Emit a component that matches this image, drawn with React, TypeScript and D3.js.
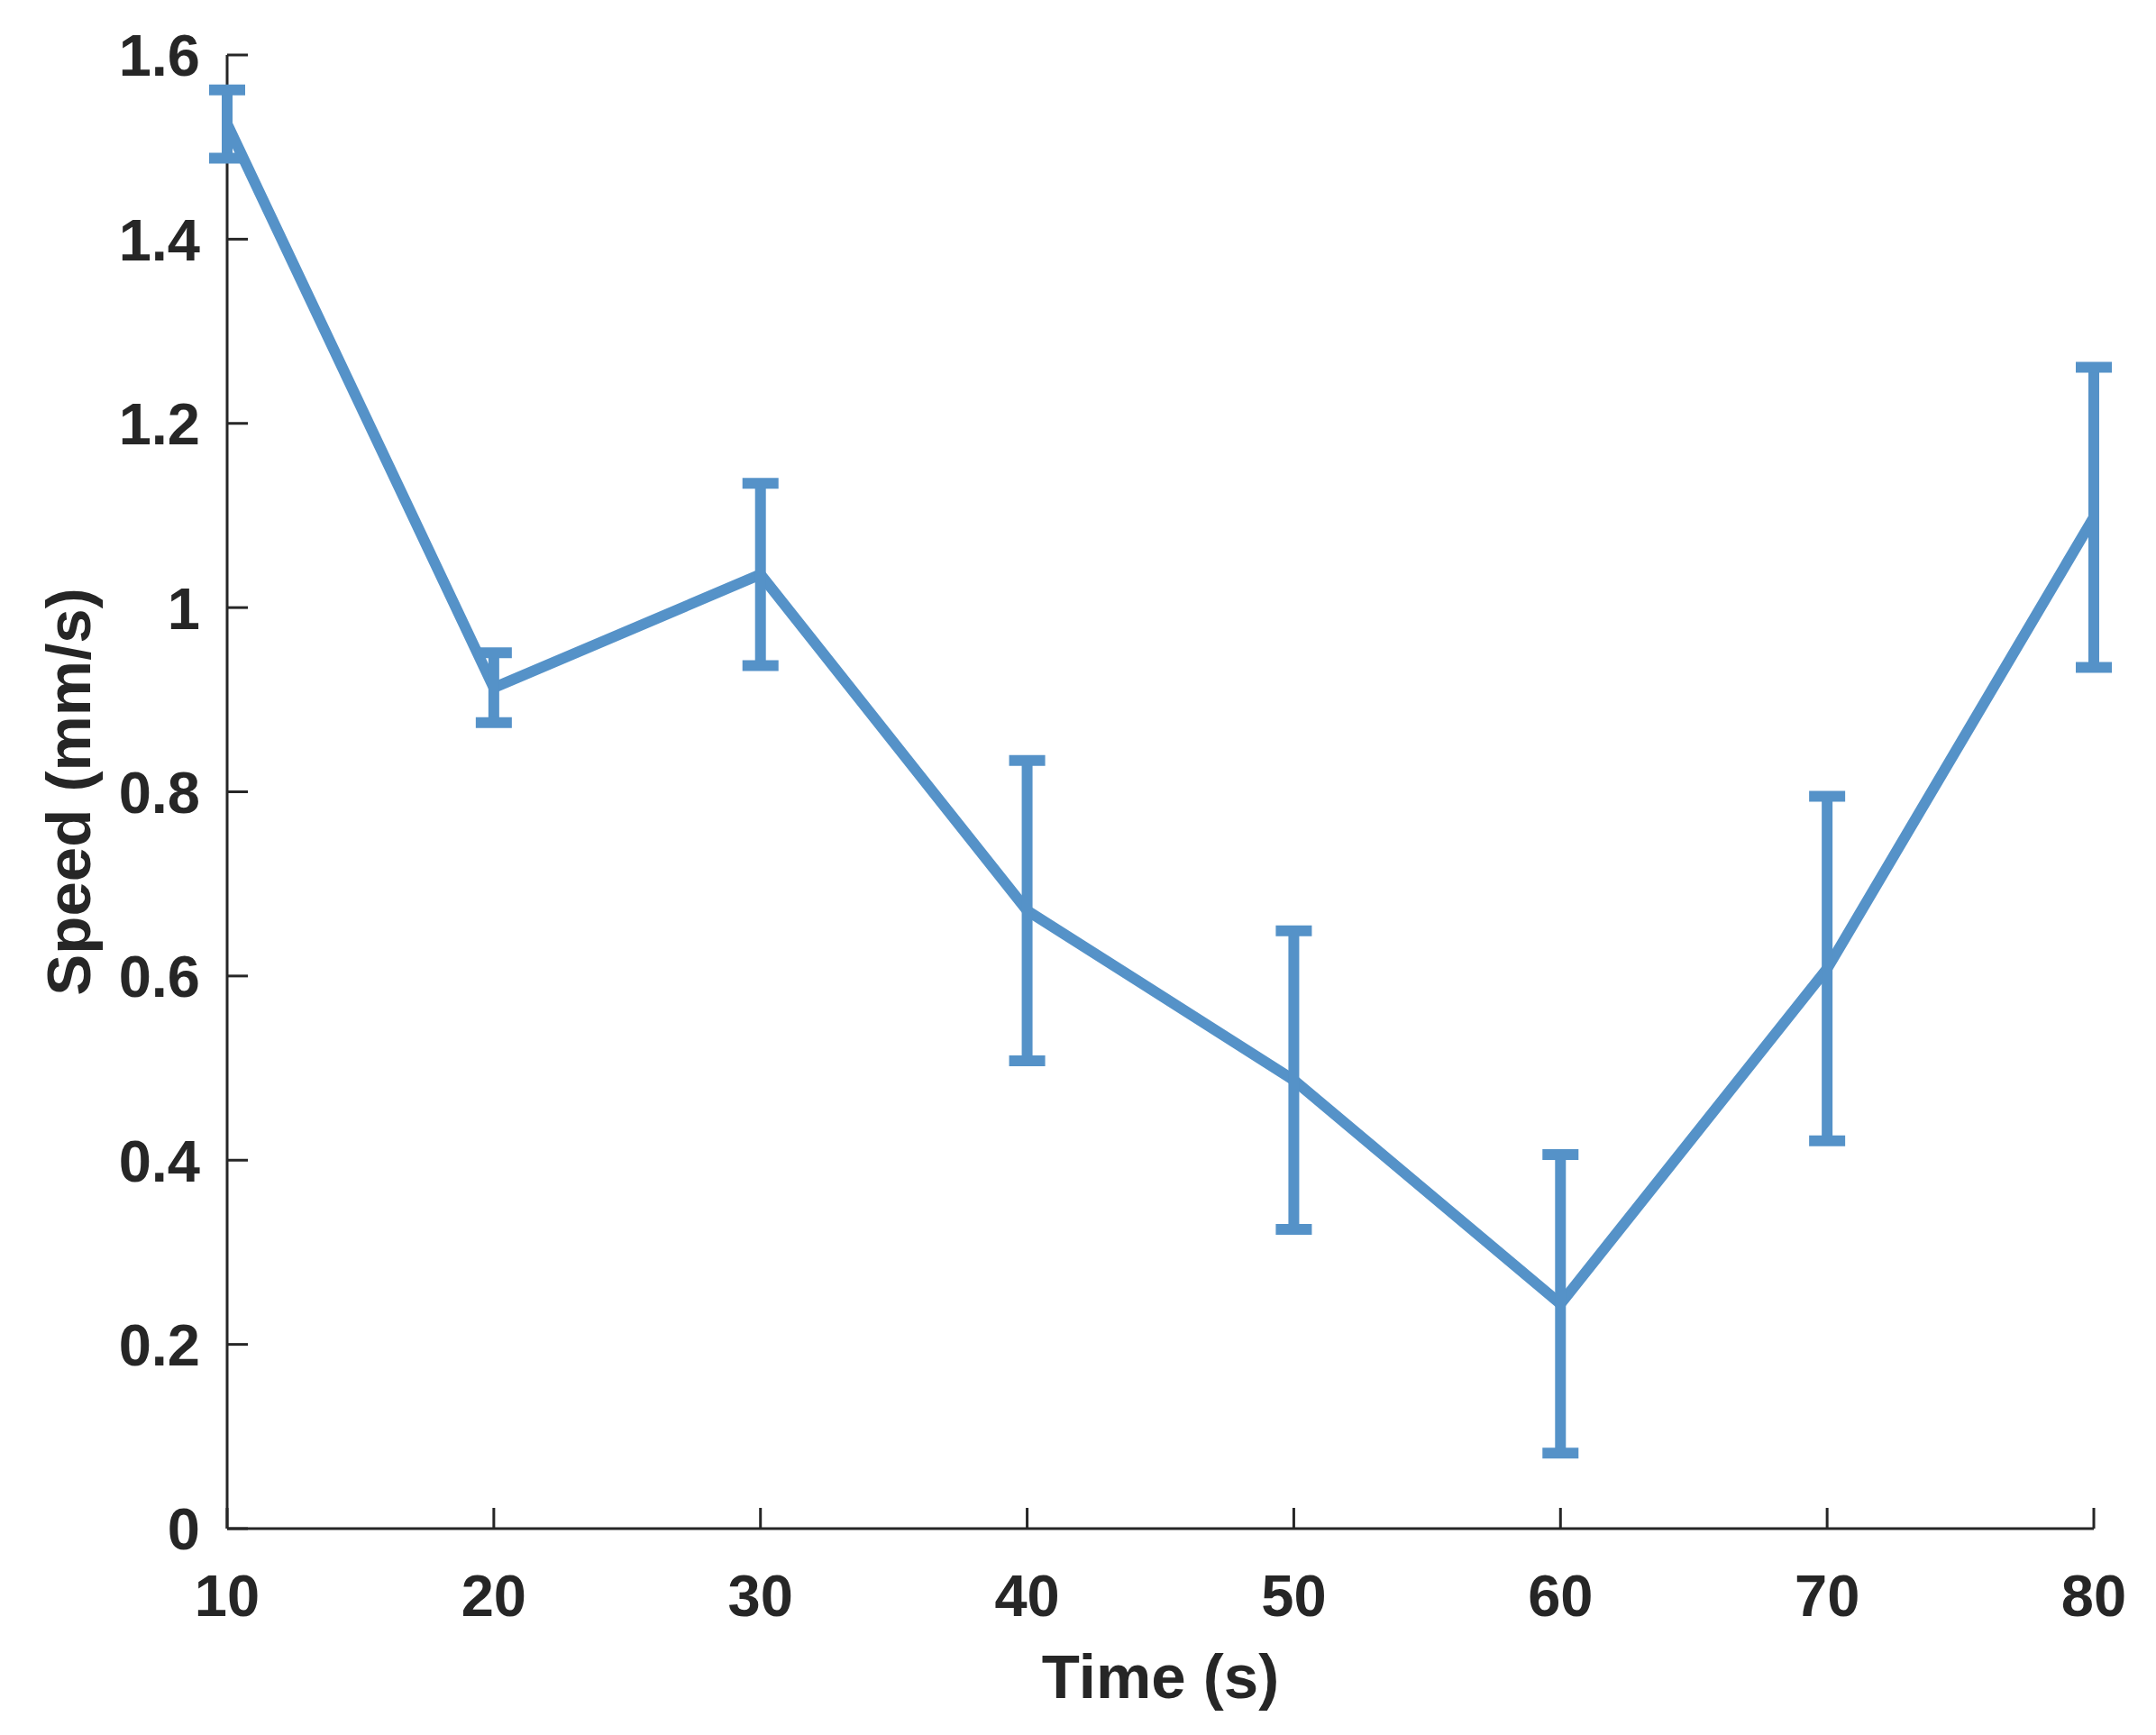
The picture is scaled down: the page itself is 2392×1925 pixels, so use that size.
import React from "react";
import { scaleLinear, line } from "d3";

// values
const times = [10, 20, 30, 40, 50, 60, 70, 80];
const speed = [1.525, 0.913, 1.036, 0.671, 0.487, 0.244, 0.608, 1.098];
const speedErr = [0.037, 0.038, 0.099, 0.163, 0.162, 0.162, 0.187, 0.163];
const xTicks = [10, 20, 30, 40, 50, 60, 70, 80];
const yTicks = [0, 0.2, 0.4, 0.6, 0.8, 1, 1.2, 1.4, 1.6];

const W = 2392;
const H = 1925;
const margin = { left: 252, right: 69, top: 61, bottom: 229 };
const ink = "#262626";
const blue = "#5592c8";
const font = "'Liberation Sans', Arial, Helvetica, sans-serif";

export default function App() {
  const x = scaleLinear()
    .domain([10, 80])
    .range([margin.left, W - margin.right]);
  const y = scaleLinear()
    .domain([0, 1.6])
    .range([H - margin.bottom, margin.top]);

  const pts = times.map((t, i) => ({ t, v: speed[i], e: speedErr[i] }));
  const path = line<{ t: number; v: number }>()
    .x((d) => x(d.t))
    .y((d) => y(d.v))(pts);

  const tickLen = 23;
  const capHalf = 20;
  const y0 = y(0);
  const x0 = x(10);

  return (
    <svg
      width={W}
      height={H}
      style={{ position: "absolute", left: 0, top: 0, background: "#fff" }}
      fontFamily={font}
      fontWeight="bold"
    >
      {/* axes */}
      <g stroke={ink} strokeWidth={3} fill="none">
        <line x1={x0} x2={x(80)} y1={y0} y2={y0} />
        <line x1={x0} x2={x0} y1={y0} y2={y(1.6)} />
        {xTicks.map((t) => (
          <line key={`xt${t}`} x1={x(t)} x2={x(t)} y1={y0} y2={y0 - tickLen} />
        ))}
        {yTicks.map((v) => (
          <line key={`yt${v}`} x1={x0} x2={x0 + tickLen} y1={y(v)} y2={y(v)} />
        ))}
      </g>

      {/* tick labels */}
      <g fill={ink} fontSize={65}>
        {xTicks.map((t) => (
          <text key={`xl${t}`} x={x(t)} y={y0 + 97} textAnchor="middle">
            {t}
          </text>
        ))}
        {yTicks.map((v) => (
          <text
            key={`yl${v}`}
            x={x0 - 30}
            y={y(v)}
            dy="0.36em"
            textAnchor="end"
          >
            {v}
          </text>
        ))}
      </g>

      {/* axis titles */}
      <text
        x={(x0 + x(80)) / 2}
        y={1884}
        textAnchor="middle"
        fontSize={69}
        fill={ink}
      >
        Time (s)
      </text>
      <text
        transform={`translate(100, ${(y0 + y(1.6)) / 2}) rotate(-90)`}
        textAnchor="middle"
        fontSize={69}
        fill={ink}
      >
        Speed (mm/s)
      </text>

      {/* series */}
      <path d={path ?? ""} fill="none" stroke={blue} strokeWidth={12} />
      <g stroke={blue} strokeWidth={12} fill="none">
        {pts.map((d) => (
          <g key={`e${d.t}`}>
            <line x1={x(d.t)} x2={x(d.t)} y1={y(d.v - d.e)} y2={y(d.v + d.e)} />
            <line
              x1={x(d.t) - capHalf}
              x2={x(d.t) + capHalf}
              y1={y(d.v + d.e)}
              y2={y(d.v + d.e)}
            />
            <line
              x1={x(d.t) - capHalf}
              x2={x(d.t) + capHalf}
              y1={y(d.v - d.e)}
              y2={y(d.v - d.e)}
            />
          </g>
        ))}
      </g>
    </svg>
  );
}
